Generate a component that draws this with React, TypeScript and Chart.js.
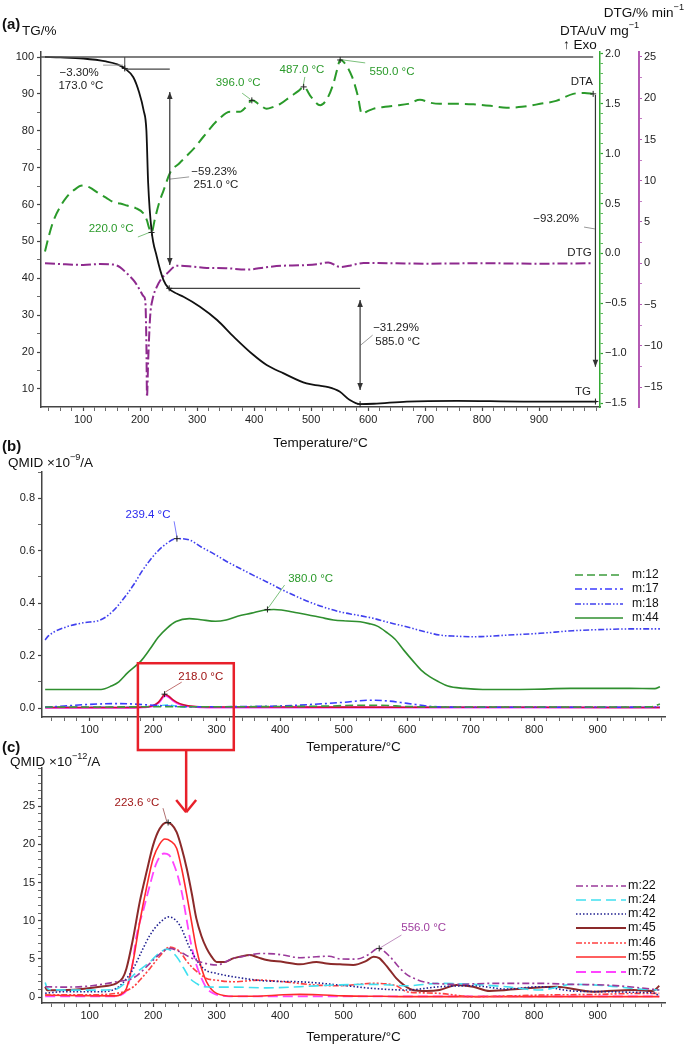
import React, { useEffect, useRef } from 'react';
import { Chart, registerables } from 'chart.js';
Chart.register(...registerables);

const FAMILY = "'Liberation Sans', Arial, Helvetica, sans-serif";
Chart.defaults.font.family = FAMILY;

// ---------------- DATA ----------------
// Panel (a) - temperature (°C) and values
const tgT = [33, 60, 100, 140, 160, 173, 188, 198, 206, 211, 214, 220, 229, 241, 250, 265, 276, 305, 335, 364, 399, 422, 451, 492, 515, 530, 550, 568, 586, 610, 668, 756, 873, 1001];
const tgV = [100, 99.9, 99.6, 98.8, 98.0, 96.9, 94.5, 90.5, 85.6, 80, 66, 53, 46, 39.5, 37.3, 35.8, 35, 32.3, 28.7, 24.2, 19.2, 16.5, 14.3, 11.5, 10.9, 10.5, 9.3, 7.0, 5.9, 6.0, 6.6, 6.8, 6.6, 6.6];

const dtaT = [33, 40, 48, 60, 71, 85, 98, 112, 124, 140, 153, 165, 177, 192, 206, 212, 216, 220, 226, 234, 241, 253, 268, 282, 297, 311, 335, 358, 375, 386, 396, 410, 422, 434, 446, 463, 478, 487, 500, 516, 528, 539, 546, 551, 560, 572, 582, 589, 600, 609, 630, 650, 670, 691, 710, 726, 760, 785, 815, 843, 870, 902, 930, 960, 980, 995];
const dtaV = [0.02, 0.18, 0.33, 0.47, 0.565, 0.64, 0.68, 0.66, 0.615, 0.56, 0.515, 0.5, 0.48, 0.455, 0.4, 0.33, 0.25, 0.21, 0.35, 0.52, 0.63, 0.815, 0.9, 0.98, 1.07, 1.17, 1.33, 1.42, 1.42, 1.47, 1.535, 1.49, 1.45, 1.47, 1.5, 1.57, 1.63, 1.67, 1.57, 1.485, 1.55, 1.7, 1.85, 1.94, 1.9, 1.77, 1.58, 1.4, 1.43, 1.45, 1.47, 1.485, 1.5, 1.54, 1.51, 1.5, 1.5, 1.495, 1.48, 1.46, 1.47, 1.5, 1.53, 1.6, 1.61, 1.6];

const dtgT = [33, 60, 100, 130, 153, 165, 177, 190, 200, 206, 209, 211, 212, 214, 217.5, 222, 229, 237, 247, 264, 290, 317, 350, 387, 420, 451, 480, 510, 530, 551, 568, 580, 592, 650, 700, 800, 900, 995];
const dtgV = [0.0, -0.1, -0.2, -0.1, -0.16, -0.5, -1.25, -2.2, -3.3, -4.0, -4.5, -10, -16.2, -12, -6.5, -4.3, -2.9, -1.9, -1.25, -0.3, -0.4, -0.57, -0.6, -0.77, -0.5, -0.3, -0.25, -0.12, 0.1, -0.45, -0.3, -0.1, 0.04, 0.0, -0.05, 0.0, -0.05, 0.0];

// Panel (b) - QMID x1e-9 A
const m12T = [30, 100, 200, 300, 400, 480, 520, 560, 600, 700, 800, 900, 985, 998];
const m12V = [0.004, 0.004, 0.005, 0.005, 0.006, 0.008, 0.011, 0.011, 0.006, 0.004, 0.004, 0.004, 0.005, 0.016];
const m17T = [30, 60, 100, 140, 165, 185, 200, 215, 240, 280, 350, 400, 450, 500, 540, 570, 600, 640, 700, 800, 900, 998];
const m17V = [0.003, 0.008, 0.014, 0.017, 0.016, 0.013, 0.011, 0.009, 0.006, 0.005, 0.006, 0.008, 0.014, 0.022, 0.03, 0.027, 0.018, 0.006, 0.003, 0.003, 0.003, 0.004];
const m18T = [30, 35, 64, 90, 116, 130, 143, 156, 169, 182, 195, 208, 221, 237, 258, 275, 295, 315, 337, 358, 379, 410, 452, 494, 520, 547, 573, 599, 625, 652, 678, 704, 730, 757, 809, 861, 914, 960, 998];
const m18V = [0.26, 0.275, 0.31, 0.325, 0.335, 0.355, 0.386, 0.425, 0.469, 0.52, 0.564, 0.6, 0.627, 0.646, 0.64, 0.615, 0.589, 0.56, 0.532, 0.506, 0.481, 0.443, 0.399, 0.367, 0.355, 0.342, 0.325, 0.31, 0.293, 0.278, 0.274, 0.272, 0.274, 0.278, 0.285, 0.295, 0.3, 0.302, 0.302];
const m44T = [30, 60, 118, 135, 146, 160, 181, 195, 208, 222, 236, 257, 275, 298, 315, 333, 355, 374, 390, 402, 420, 443, 465, 484, 505, 526, 540, 553, 567, 581, 595, 609, 622, 636, 650, 664, 690, 719, 760, 800, 857, 900, 950, 990, 998];
const m44V = [0.071, 0.071, 0.071, 0.085, 0.1, 0.135, 0.18, 0.225, 0.27, 0.305, 0.33, 0.341, 0.337, 0.331, 0.336, 0.35, 0.362, 0.373, 0.376, 0.374, 0.366, 0.356, 0.345, 0.336, 0.332, 0.329, 0.322, 0.3125, 0.29, 0.2625, 0.22, 0.18, 0.145, 0.119, 0.1, 0.084, 0.075, 0.071, 0.071, 0.072, 0.075, 0.075, 0.075, 0.074, 0.081];
const bTraceT = [30, 150, 185, 200, 208, 214, 218, 224, 232, 242, 255, 275, 300, 400, 600, 800, 998];
const bRedV = [0.002, 0.002, 0.004, 0.01, 0.022, 0.04, 0.053, 0.046, 0.03, 0.017, 0.009, 0.005, 0.004, 0.004, 0.003, 0.003, 0.002];
const bMagV = [0.001, 0.001, 0.003, 0.008, 0.019, 0.036, 0.048, 0.043, 0.027, 0.014, 0.007, 0.003, 0.002, 0.002, 0.002, 0.002, 0.002];
const bCyanT = [30, 150, 200, 222, 245, 300, 998];
const bCyanV = [0.004, 0.004, 0.006, 0.012, 0.005, 0.003, 0.003];

// Panel (c) - QMID x1e-12 A
const m22T = [30, 60, 100, 142, 169, 195, 210, 226, 242, 258, 274, 300, 326, 347, 368, 390, 405, 431, 457, 477, 494, 520, 540, 554, 573, 585, 599, 615, 630, 650, 678, 730, 809, 861, 914, 966, 997];
const m22V = [1.35, 1.3, 1.45, 2.0, 2.5, 4.4, 5.6, 6.37, 5.93, 5.2, 4.6, 4.2, 5.06, 5.4, 5.7, 5.65, 5.5, 5.15, 5.28, 5.35, 5.0, 4.97, 5.6, 6.37, 5.28, 4.1, 2.97, 2.3, 1.92, 1.75, 1.66, 1.79, 1.79, 1.66, 1.57, 1.22, 0.92];
const m24T = [30, 33, 40, 100, 140, 158, 175, 195, 210, 222, 237, 248, 258, 268, 279, 300, 326, 379, 431, 494, 546, 599, 651, 704, 756, 809, 861, 914, 966, 997];
const m24V = [1.9, 1.2, 0.95, 0.9, 1.0, 2.0, 3.3, 4.6, 5.8, 6.28, 5.28, 3.8, 2.44, 1.8, 1.35, 1.3, 1.3, 1.2, 1.35, 1.6, 1.66, 1.48, 1.79, 1.66, 1.35, 0.92, 1.66, 1.48, 1.05, 0.92];
const m42T = [30, 60, 116, 142, 156, 169, 182, 195, 210, 225, 242, 258, 279, 300, 326, 379, 431, 494, 546, 599, 651, 704, 756, 809, 861, 914, 966, 990, 997];
const m42V = [0.5, 0.7, 0.7, 1.13, 2.2, 3.75, 6.0, 8.1, 9.7, 10.5, 9.4, 6.37, 3.75, 3.1, 2.66, 2.1, 2.0, 1.57, 1.13, 0.92, 1.35, 1.48, 1.05, 1.35, 0.79, 0.7, 0.61, 0.5, 0.04];
const m45T = [30, 33, 64, 116, 142, 152, 158, 168, 179, 190, 200, 210, 221, 229, 237, 245, 253, 261, 268, 276, 284, 292, 300, 313, 326, 340, 352, 365, 379, 405, 431, 457, 473, 494, 515, 535, 547, 556, 562, 573, 583, 596, 609, 630, 651, 678, 704, 730, 783, 835, 893, 956, 987, 997];
const m45V = [1.35, 0.9, 0.92, 1.35, 1.8, 2.5, 3.75, 7.5, 12.5, 16.5, 19.9, 22.0, 22.86, 22.6, 21.6, 19.5, 16.8, 13.5, 10.3, 8.0, 6.4, 5.3, 4.6, 4.6, 5.06, 5.35, 5.5, 5.2, 4.84, 4.6, 4.28, 4.6, 4.4, 4.28, 4.2, 4.7, 5.28, 5.1, 4.6, 3.5, 2.44, 1.5, 0.92, 0.79, 0.92, 1.57, 1.35, 0.79, 1.13, 1.35, 0.7, 0.92, 0.79, 1.48];
const m46T = [30, 60, 100, 142, 169, 180, 195, 210, 226, 242, 252, 263, 274, 284, 300, 326, 368, 405, 457, 494, 546, 583, 599, 625, 651, 704, 756, 809, 900, 966, 997];
const m46V = [0.26, 0.3, 0.3, 0.48, 1.35, 2.3, 3.75, 5.3, 6.54, 5.93, 4.8, 3.75, 3.0, 2.44, 2.2, 2.0, 2.22, 2.0, 1.57, 1.48, 1.79, 1.48, 0.7, 0.55, 0.48, 0.04, 0.13, 0.26, 0.35, 0.48, 0.48];
const m55T = [30, 60, 142, 150, 158, 168, 179, 190, 200, 210, 218.6, 228, 237, 245, 253, 261, 268, 276, 284, 292, 300, 326, 360, 405, 431, 460, 500, 560, 600, 700, 800, 900, 997];
const m55V = [0.26, 0.2, 0.15, 0.4, 1.13, 4.5, 9.86, 14.5, 18.15, 20.0, 20.7, 20.4, 19.5, 16.8, 13.35, 9.6, 6.37, 3.8, 2.0, 1.0, 0.48, 0.1, 0.1, 0.3, 0.35, 0.3, 0.15, 0.1, 0.05, 0.05, 0.05, 0.05, 0.05];
const m72T = [30, 60, 142, 150, 158, 166, 174, 185, 195, 205, 217, 225, 233, 240, 246, 252, 259, 266, 274, 284, 295, 320, 400, 600, 800, 997];
const m72V = [0.1, 0.1, 0.1, 0.3, 0.9, 3.5, 8.1, 11.5, 14.7, 17.5, 18.8, 18.6, 17.3, 15.5, 13.35, 10.5, 7.24, 4.8, 2.88, 1.2, 0.48, 0.1, 0.1, 0.1, 0.1, 0.1];

// Tick labels
const xMajor = [100, 200, 300, 400, 500, 600, 700, 800, 900];
const tgMajor = [10, 20, 30, 40, 50, 60, 70, 80, 90, 100];
const dtaMajor = [-1.5, -1.0, -0.5, 0.0, 0.5, 1.0, 1.5, 2.0];
const dtgMajor = [-15, -10, -5, 0, 5, 10, 15, 20, 25];
const bMajor = [0.0, 0.2, 0.4, 0.6, 0.8];
const cMajor = [0, 5, 10, 15, 20, 25];

// ---------------- HELPERS ----------------
const pts = (t: number[], v: number[]) => t.map((x, i) => ({ x, y: v[i] }));
const isMajor = (m: number[], v: number) => m.some((a) => Math.abs(a - v) < 1e-6);
function subdivide(majors: number[], n: number, lo: number, hi: number) {
  const step = (majors[1] - majors[0]) / n;
  const start = majors[0] - Math.floor((majors[0] - lo) / step) * step;
  const out: number[] = [];
  for (let v = start; v <= hi + 1e-9; v += step) out.push(Math.round(v * 1e6) / 1e6);
  return out;
}
const minus = (s: string) => s.replace('-', '\u2212');

function ds(label: string, t: number[], v: number[], color: string, width: number, dash: number[], yAxisID = 'y') {
  return {
    label, data: pts(t, v), borderColor: color, backgroundColor: color, borderWidth: width,
    borderDash: dash, pointRadius: 0, cubicInterpolationMode: 'monotone', fill: false, yAxisID,
  };
}

function xAxis(min: number, max: number, height: number, titlePad: number) {
  const all = subdivide(xMajor, 5, min, max);
  return {
    type: 'linear', position: 'bottom', min, max,
    afterBuildTicks: (s: any) => { s.ticks = all.map((v) => ({ value: v })); },
    afterFit: (s: any) => { s.height = height; s.paddingLeft = 0; s.paddingRight = 0; },
    ticks: { autoSkip: false, maxRotation: 0, color: '#222', font: { size: 11 }, padding: 2,
      callback: (v: number) => (isMajor(xMajor, v) ? String(v) : '') },
    grid: { drawOnChartArea: false, drawTicks: true, tickLength: 4, tickColor: '#444',
      tickWidth: (c: any) => (c.tick && isMajor(xMajor, c.tick.value) ? 1.2 : 0.8) },
    border: { display: true, color: '#444', width: 1.5 },
    title: { display: true, text: 'Temperature/\u00b0C', color: '#111', font: { size: 13.5 }, padding: { top: 0, bottom: titlePad } },
  };
}

function yAxis(o: { pos: 'left' | 'right'; min: number; max: number; majors: number[]; sub: number; width: number; fmt: (v: number) => string; color: string; weight?: number; tickLen?: number; pad?: number; bw?: number }) {
  const all = subdivide(o.majors, o.sub, o.min, o.max);
  return {
    type: 'linear', position: o.pos, min: o.min, max: o.max, weight: o.weight ?? 0,
    afterBuildTicks: (s: any) => { s.ticks = all.map((v) => ({ value: v })); },
    afterFit: (s: any) => { s.width = o.width; s.paddingTop = 0; s.paddingBottom = 0; },
    ticks: { autoSkip: false, color: '#222', font: { size: 11 }, padding: o.pad ?? 3,
      callback: (v: number) => (isMajor(o.majors, v) ? o.fmt(v) : '') },
    grid: { drawOnChartArea: false, drawTicks: true, tickLength: o.tickLen ?? 4, tickColor: o.color,
      tickWidth: (c: any) => (c.tick && isMajor(o.majors, c.tick.value) ? 1.2 : 0.8) },
    border: { display: true, color: o.color, width: o.bw ?? 1.5 },
  };
}

type Seg = { t: string; sup?: boolean };
function drawRich(ctx: CanvasRenderingContext2D, segs: Seg[], x: number, y: number, size: number, align: string, color: string, bold = false) {
  const f = (s: number) => `${bold ? 'bold ' : ''}${s}px ${FAMILY}`;
  const widths = segs.map((sg) => { ctx.font = f(sg.sup ? size * 0.68 : size); return ctx.measureText(sg.t).width; });
  const total = widths.reduce((a, b) => a + b, 0);
  let cx = align === 'left' ? x : align === 'right' ? x - total : x - total / 2;
  ctx.textAlign = 'left'; ctx.textBaseline = 'middle'; ctx.fillStyle = color;
  segs.forEach((sg, i) => {
    ctx.font = f(sg.sup ? size * 0.68 : size);
    ctx.fillText(sg.t, cx, sg.sup ? y - size * 0.38 : y);
    cx += widths[i];
  });
}

interface Spec {
  lines?: any[]; arrows?: any[]; texts?: any[]; crosses?: any[]; rects?: any[]; headers?: any[];
  legend?: { ds: number[]; x1: number; x2: number; tx: number; ys: number[]; size: number };
}

function makePlugin(spec: Spec) {
  return {
    id: 'annot',
    afterDraw(chart: any) {
      const ctx: CanvasRenderingContext2D = chart.ctx;
      const X = (v: number) => chart.scales.x.getPixelForValue(v);
      const Y = (axis: string, v: number) => chart.scales[axis].getPixelForValue(v);
      ctx.save();
      (spec.rects || []).forEach((r) => {
        ctx.strokeStyle = r.color; ctx.lineWidth = r.width; ctx.setLineDash([]);
        const x1 = X(r.x1), x2 = X(r.x2), y1 = Y(r.axis, r.y1), y2 = Y(r.axis, r.y2);
        ctx.strokeRect(x1, y1, x2 - x1, y2 - y1);
      });
      (spec.lines || []).forEach((l) => {
        ctx.strokeStyle = l.color; ctx.lineWidth = l.width; ctx.setLineDash(l.dash || []);
        ctx.beginPath(); ctx.moveTo(X(l.x1), Y(l.axis, l.y1)); ctx.lineTo(X(l.x2), Y(l.axis, l.y2)); ctx.stroke();
      });
      ctx.setLineDash([]);
      (spec.arrows || []).forEach((a) => {
        const x = X(a.x), y1 = Y(a.axis, a.y1), y2 = Y(a.axis, a.y2);
        ctx.strokeStyle = a.color; ctx.fillStyle = a.color; ctx.lineWidth = 1.2;
        ctx.beginPath(); ctx.moveTo(x, y1); ctx.lineTo(x, y2); ctx.stroke();
        const head = (yy: number, dir: number) => {
          ctx.beginPath(); ctx.moveTo(x, yy); ctx.lineTo(x - 2.8, yy - dir * 7); ctx.lineTo(x + 2.8, yy - dir * 7); ctx.closePath(); ctx.fill();
        };
        head(y2, y2 > y1 ? 1 : -1);
        if (a.both) head(y1, y1 > y2 ? 1 : -1);
      });
      (spec.crosses || []).forEach((c) => {
        const x = X(c.x), y = Y(c.axis, c.y);
        ctx.strokeStyle = '#222'; ctx.lineWidth = 1;
        ctx.beginPath(); ctx.moveTo(x - 3, y); ctx.lineTo(x + 3, y); ctx.moveTo(x, y - 3); ctx.lineTo(x, y + 3); ctx.stroke();
      });
      (spec.texts || []).forEach((t) => {
        drawRich(ctx, [{ t: t.t }], X(t.x), Y(t.axis, t.y), t.size || 11.5, t.align || 'center', t.color);
      });
      (spec.headers || []).forEach((h) => {
        drawRich(ctx, h.segs, h.x, h.y, h.size, h.align, h.color || '#111', h.bold);
      });
      if (spec.legend) {
        const L = spec.legend;
        L.ds.forEach((di, i) => {
          const d = chart.data.datasets[di];
          const y = L.ys[i];
          ctx.strokeStyle = d.borderColor; ctx.lineWidth = d.borderWidth; ctx.setLineDash(d.borderDash || []);
          ctx.beginPath(); ctx.moveTo(L.x1, y); ctx.lineTo(L.x2, y); ctx.stroke();
          ctx.setLineDash([]);
          drawRich(ctx, [{ t: d.label }], L.tx, y, L.size, 'left', '#111');
        });
      }
      ctx.restore();
    },
  };
}

// ---------------- COLORS ----------------
const C_TG = '#111111', C_DTA = '#2a9a2a', C_DTG = '#8e2a8e', C_AX_G = '#33aa33', C_AX_P = '#b45ab4';
const C_GREY = '#999999', C_RED = '#e8202a';

const baseOptions = (padding: any) => ({
  responsive: false, animation: false, devicePixelRatio: 1, events: [],
  layout: { padding },
  plugins: { legend: { display: false }, tooltip: { enabled: false } },
});

// ---------------- PANEL A ----------------
function configA(): any {
  const spec: Spec = {
    lines: [
      { x1: 26, y1: 100, x2: 995, y2: 100, axis: 'yTG', color: '#555', width: 1.5 },
      { x1: 173, y1: 96.7, x2: 252, y2: 96.7, axis: 'yTG', color: '#444', width: 1.2 },
      { x1: 173, y1: 100, x2: 173, y2: 96.9, axis: 'yTG', color: '#444', width: 1 },
      { x1: 250, y1: 37.3, x2: 586, y2: 37.3, axis: 'yTG', color: '#444', width: 1.2 },
      { x1: 135, y1: 97.8, x2: 170, y2: 97.8, axis: 'yTG', color: C_GREY, width: 1 },
      { x1: 379, y1: 90.2, x2: 393, y2: 88.6, axis: 'yTG', color: '#7cc07c', width: 1 },
      { x1: 489, y1: 94.6, x2: 486, y2: 92.1, axis: 'yTG', color: '#7cc07c', width: 1 },
      { x1: 595, y1: 98.4, x2: 556, y2: 99.2, axis: 'yTG', color: '#7cc07c', width: 1 },
      { x1: 196, y1: 51.2, x2: 219, y2: 52.6, axis: 'yTG', color: '#7cc07c', width: 1 },
      { x1: 252, y1: 66.9, x2: 286, y2: 67.5, axis: 'yTG', color: C_GREY, width: 1 },
      { x1: 587, y1: 21.9, x2: 608, y2: 24.6, axis: 'yTG', color: C_GREY, width: 1 },
      { x1: 979, y1: 53.9, x2: 998, y2: 53.4, axis: 'yTG', color: C_GREY, width: 1 },
    ],
    arrows: [
      { x: 252, y1: 90.5, y2: 43.6, axis: 'yTG', both: true, color: '#333' },
      { x: 586, y1: 34.1, y2: 9.7, axis: 'yTG', both: true, color: '#333' },
      { x: 999, y1: 89.7, y2: 16.0, axis: 'yTG', both: false, color: '#333' },
    ],
    crosses: [
      { x: 173, y: 96.9, axis: 'yTG' }, { x: 251, y: 37.3, axis: 'yTG' }, { x: 586, y: 5.9, axis: 'yTG' }, { x: 999, y: 6.6, axis: 'yTG' },
      { x: 220, y: 0.21, axis: 'yDTA' }, { x: 396, y: 1.535, axis: 'yDTA' }, { x: 487, y: 1.67, axis: 'yDTA' }, { x: 551, y: 1.94, axis: 'yDTA' }, { x: 995, y: 1.6, axis: 'yDTA' },
    ],
    texts: [
      { t: '\u22123.30%', x: 93, y: 95.7, axis: 'yTG', color: '#222' },
      { t: '173.0 \u00b0C', x: 96, y: 92.1, axis: 'yTG', color: '#222' },
      { t: '396.0 \u00b0C', x: 372, y: 93.0, axis: 'yTG', color: C_DTA },
      { t: '487.0 \u00b0C', x: 484, y: 96.5, axis: 'yTG', color: C_DTA },
      { t: '550.0 \u00b0C', x: 642, y: 95.9, axis: 'yTG', color: C_DTA },
      { t: '220.0 \u00b0C', x: 149, y: 53.4, axis: 'yTG', color: C_DTA },
      { t: '\u221259.23%', x: 330, y: 68.8, axis: 'yTG', color: '#222' },
      { t: '251.0 \u00b0C', x: 333, y: 65.3, axis: 'yTG', color: '#222' },
      { t: '\u221231.29%', x: 649, y: 26.5, axis: 'yTG', color: '#222' },
      { t: '585.0 \u00b0C', x: 652, y: 22.7, axis: 'yTG', color: '#222' },
      { t: '\u221293.20%', x: 930, y: 56.1, axis: 'yTG', color: '#222' },
      { t: 'DTA', x: 975, y: 93.2, axis: 'yTG', color: '#222' },
      { t: 'DTG', x: 971, y: 46.9, axis: 'yTG', color: '#222' },
      { t: 'TG', x: 977, y: 9.2, axis: 'yTG', color: '#222' },
    ],
    headers: [
      { segs: [{ t: '(a)' }], x: 2, y: 25, size: 15, align: 'left', bold: true },
      { segs: [{ t: 'TG/%' }], x: 22, y: 31, size: 13.5, align: 'left' },
      { segs: [{ t: 'DTG/% min' }, { t: '\u22121', sup: true }], x: 684, y: 13, size: 13.5, align: 'right' },
      { segs: [{ t: 'DTA/uV mg' }, { t: '\u22121', sup: true }], x: 560, y: 31, size: 13.5, align: 'left' },
      { segs: [{ t: '\u2191 Exo' }], x: 563, y: 45, size: 13.5, align: 'left' },
    ],
  };
  return {
    type: 'line',
    data: {
      datasets: [
        ds('TG', tgT, tgV, C_TG, 1.8, [], 'yTG'),
        ds('DTA', dtaT, dtaV, C_DTA, 2, [11, 6], 'yDTA'),
        ds('DTG', dtgT, dtgV, C_DTG, 2, [10, 3, 2, 3], 'yDTG'),
      ],
    },
    options: {
      ...baseOptions({ top: 52, left: 0, right: 0, bottom: 0 }),
      scales: {
        x: xAxis(26, 1007, 48, 3.9),
        yTG: yAxis({ pos: 'left', min: 5.12, max: 101.36, majors: tgMajor, sub: 2, width: 41, fmt: (v) => String(v), color: '#444' }),
        yDTA: yAxis({ pos: 'right', min: -1.54, max: 2.02, majors: dtaMajor, sub: 5, width: 39, fmt: (v) => minus(v.toFixed(1)), color: C_AX_G, weight: 1, tickLen: 3, pad: 2 }),
        yDTG: yAxis({ pos: 'right', min: -17.42, max: 25.6, majors: dtgMajor, sub: 2, width: 46, fmt: (v) => minus(String(v)), color: C_AX_P, weight: 2, tickLen: 3, pad: 2, bw: 2 }),
      },
    },
    plugins: [makePlugin(spec)],
  };
}

// ---------------- PANEL B ----------------
function configB(): any {
  const spec: Spec = {
    rects: [{ x1: 176, x2: 327, y1: 0.171, y2: -0.16, axis: 'y', color: C_RED, width: 2.5 }],
    lines: [
      { x1: 233, y1: 0.712, x2: 237.5, y2: 0.651, axis: 'y', color: '#7a7aff', width: 1 },
      { x1: 381, y1: 0.381, x2: 407, y2: 0.469, axis: 'y', color: '#7cc07c', width: 1 },
      { x1: 219, y1: 0.061, x2: 245, y2: 0.099, axis: 'y', color: '#c07070', width: 1 },
    ],
    crosses: [{ x: 237.5, y: 0.646, axis: 'y' }, { x: 380, y: 0.376, axis: 'y' }, { x: 218, y: 0.053, axis: 'y' }],
    texts: [
      { t: '239.4 \u00b0C', x: 192, y: 0.735, axis: 'y', color: '#2a2aee' },
      { t: '380.0 \u00b0C', x: 448, y: 0.491, axis: 'y', color: C_DTA },
      { t: '218.0 \u00b0C', x: 275, y: 0.118, axis: 'y', color: '#a01414' },
    ],
    headers: [
      { segs: [{ t: '(b)' }], x: 2, y: 22, size: 15, align: 'left', bold: true },
      { segs: [{ t: 'QMID \u00d710' }, { t: '\u22129', sup: true }, { t: '/A' }], x: 8, y: 38, size: 13.5, align: 'left' },
    ],
    legend: { ds: [0, 1, 2, 3], x1: 575, x2: 623, tx: 632, ys: [150, 164, 179, 193], size: 12 },
  };
  return {
    type: 'line',
    data: {
      datasets: [
        ds('m:12', m12T, m12V, '#3c9c3c', 1.6, [8, 4]),
        ds('m:17', m17T, m17V, '#3b3bff', 1.6, [7, 3, 2, 3]),
        ds('m:18', m18T, m18V, '#4040ee', 1.6, [6, 2, 1.5, 2, 1.5, 2]),
        ds('m:44', m44T, m44V, '#2f8f2f', 1.6, []),
        ds('', bTraceT, bRedV, '#d01030', 1.6, []),
        ds('', bTraceT, bMagV, '#ff30ff', 2, []),
        ds('', bCyanT, bCyanV, '#30d8f0', 1.4, [6, 3]),
      ],
    },
    options: {
      ...baseOptions({ top: 47, left: 0, right: 20, bottom: 0 }),
      scales: {
        x: xAxis(25, 1006, 48, 9.9),
        y: yAxis({ pos: 'left', min: -0.034, max: 0.9, majors: bMajor, sub: 2, width: 42, fmt: (v) => v.toFixed(1), color: '#444' }),
      },
    },
    plugins: [makePlugin(spec)],
  };
}

// ---------------- PANEL C ----------------
function configC(): any {
  const spec: Spec = {
    lines: [
      { x1: 252, y1: 32.3, x2: 252, y2: 24.4, axis: 'y', color: C_RED, width: 2.5 },
      { x1: 236.3, y1: 25.8, x2: 252, y2: 24.2, axis: 'y', color: C_RED, width: 2.5 },
      { x1: 252, y1: 24.2, x2: 267.7, y2: 25.8, axis: 'y', color: C_RED, width: 2.5 },
      { x1: 215.5, y1: 24.74, x2: 221.8, y2: 22.9, axis: 'y', color: '#b07070', width: 1 },
      { x1: 591, y1: 8.12, x2: 556, y2: 6.37, axis: 'y', color: '#c090c0', width: 1 },
    ],
    crosses: [{ x: 223.6, y: 22.86, axis: 'y' }, { x: 556, y: 6.37, axis: 'y' }],
    texts: [
      { t: '223.6 \u00b0C', x: 174.5, y: 25.5, axis: 'y', color: '#a01818' },
      { t: '556.0 \u00b0C', x: 626, y: 9.03, axis: 'y', color: '#a040a0' },
    ],
    headers: [
      { segs: [{ t: '(c)' }], x: 2, y: 13, size: 15, align: 'left', bold: true },
      { segs: [{ t: 'QMID \u00d710' }, { t: '\u221212', sup: true }, { t: '/A' }], x: 10, y: 27, size: 13.5, align: 'left' },
    ],
    legend: { ds: [0, 1, 2, 3, 4, 5, 6], x1: 576, x2: 626, tx: 628, ys: [151, 165, 179, 193, 208, 222, 237], size: 12.5 },
  };
  return {
    type: 'line',
    data: {
      datasets: [
        ds('m:22', m22T, m22V, '#9a3a9a', 1.6, [7, 3, 2, 3]),
        ds('m:24', m24T, m24V, '#40e0f0', 1.6, [10, 5]),
        ds('m:42', m42T, m42V, '#202090', 1.6, [1.5, 2]),
        ds('m:45', m45T, m45V, '#8b2a2a', 2, []),
        ds('m:46', m46T, m46V, '#ff4040', 1.6, [6, 2, 2, 2, 2, 2]),
        ds('m:55', m55T, m55V, '#ff2a2a', 1.6, []),
        ds('m:72', m72T, m72V, '#ff44ff', 1.8, [10, 5]),
      ],
    },
    options: {
      ...baseOptions({ top: 33, left: 0, right: 20, bottom: 0 }),
      scales: {
        x: xAxis(25, 1006, 42, 0),
        y: yAxis({ pos: 'left', min: -0.78, max: 30, majors: cMajor, sub: 5, width: 42, fmt: (v) => String(v), color: '#444' }),
      },
    },
    plugins: [makePlugin(spec)],
  };
}

export default function App() {
  const refA = useRef<HTMLCanvasElement>(null);
  const refB = useRef<HTMLCanvasElement>(null);
  const refC = useRef<HTMLCanvasElement>(null);
  useEffect(() => {
    const charts = [
      new Chart(refA.current as HTMLCanvasElement, configA()),
      new Chart(refB.current as HTMLCanvasElement, configB()),
      new Chart(refC.current as HTMLCanvasElement, configC()),
    ];
    return () => charts.forEach((c) => c.destroy());
  }, []);
  return (
    <div style={{ position: 'absolute', left: 0, top: 0, width: 685, height: 1045, background: '#fff', overflow: 'hidden' }}>
      <canvas ref={refA} width={685} height={455} style={{ position: 'absolute', left: 0, top: 0, width: 685, height: 455 }} />
      <canvas ref={refB} width={685} height={340} style={{ position: 'absolute', left: 0, top: 425, width: 685, height: 340 }} />
      <canvas ref={refC} width={685} height={310} style={{ position: 'absolute', left: 0, top: 735, width: 685, height: 310 }} />
    </div>
  );
}
